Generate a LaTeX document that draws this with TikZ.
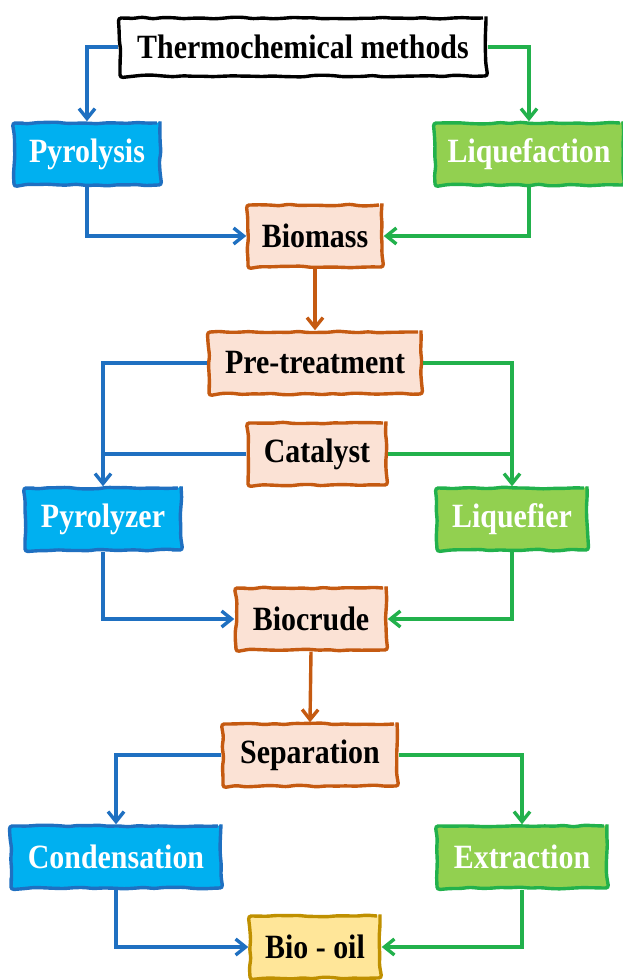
\documentclass[tikz,border=0pt]{standalone}
\usepackage{fontspec}
\setmainfont{Liberation Serif}
\newfontfamily\boxfont{Liberation Serif}[FakeStretch=0.88]
\usepackage{tikz}
\usetikzlibrary{%
  calc,
  positioning,
  arrows.meta,
  decorations.pathmorphing,
}

\definecolor{pyroFill}{HTML}{00B0F0}
\definecolor{pyroLine}{HTML}{1F70C1}
\definecolor{liqFill}{HTML}{92D050}
\definecolor{liqLine}{HTML}{22B14C}
\definecolor{stepFill}{HTML}{FBE2D5}
\definecolor{stepLine}{HTML}{C55A11}
\definecolor{oilFill}{HTML}{FFE699}
\definecolor{oilLine}{HTML}{BF9000}

\tikzset{
  sketchbox/.style = {
    rectangle, line width = 1.7pt,
    minimum height = 31pt, inner sep = 2pt,
    rounded corners = 1.5pt,
    decoration = {random steps, segment length = 5pt, amplitude = 0.45pt},
    decorate,
    font = \boxfont\fontsize{17}{20}\selectfont\bfseries,
  },
  headbox/.style  = {sketchbox, draw = black, fill = white},
  pyrobox/.style  = {sketchbox, draw = pyroLine, fill = pyroFill, text = white},
  liqbox/.style   = {sketchbox, draw = liqLine, fill = liqFill, text = white},
  stagebox/.style = {sketchbox, draw = stepLine, fill = stepFill},
  oilbox/.style   = {sketchbox, draw = oilLine, fill = oilFill},
  flow/.style     = {line width = 1.7pt, -{Straight Barb[length=5pt, width=8pt]}},
  pyroflow/.style = {flow, draw = pyroLine},
  liqflow/.style  = {flow, draw = liqLine},
  stageflow/.style = {flow, draw = stepLine},
}

\begin{document}
\begin{tikzpicture}[x = 0.5pt, y = -0.5pt]
        \pgfmathsetseed{7}
        \useasboundingbox (0,0) rectangle (622,980);

        % top level
        \node[headbox, minimum width = 183pt, minimum height = 29pt]
          (thermo) at (303,47) {Thermochemical methods};
        \node[pyrobox, minimum width = 73pt] (pyrolysis) at (87,154) {Pyrolysis};
        \node[liqbox, minimum width = 94pt] (liquefaction) at (529,154) {Liquefaction};
        \node[stagebox, minimum width = 67pt] (biomass) at (315,236) {Biomass};

        % processing
        \node[stagebox, minimum width = 106pt] (pretreat) at (315,363) {Pre-treatment};
        \node[stagebox, minimum width = 69pt] (catalyst) at (317,454) {Catalyst};
        \node[pyrobox, minimum width = 78pt] (pyrolyzer) at (103,519) {Pyrolyzer};
        \node[liqbox, minimum width = 75pt] (liquefier) at (512,519) {Liquefier};
        \node[stagebox, minimum width = 75pt] (biocrude) at (311,619) {Biocrude};

        % products
        \node[stagebox, minimum width = 87pt] (separation) at (310,755) {Separation};
        \node[pyrobox, minimum width = 105pt] (condensation) at (116,857) {Condensation};
        \node[liqbox, minimum width = 85pt] (extraction) at (522,857) {Extraction};
        \node[oilbox, minimum width = 65pt] (biooil) at (315,947) {Bio - oil};

        \draw[pyroflow] (thermo.west) -| (pyrolysis.north);
        \draw[liqflow] (thermo.east) -| (liquefaction.north);
        \draw[pyroflow] (pyrolysis.south) |- (biomass.west);
        \draw[liqflow] (liquefaction.south) |- (biomass.east);
        \draw[stageflow] (biomass.south) -- (pretreat.north);

        \draw[pyroflow] (pretreat.west) -| (pyrolyzer.north);
        \draw[line width = 1.7pt, pyroLine] (catalyst.west) -- (catalyst.west -| pyrolyzer.north);
        \draw[liqflow] (pretreat.east) -| (liquefier.north);
        \draw[line width = 1.7pt, liqLine] (catalyst.east) -- (catalyst.east -| liquefier.north);
        \draw[pyroflow] (pyrolyzer.south) |- (biocrude.west);
        \draw[liqflow] (liquefier.south) |- (biocrude.east);
        \draw[stageflow] (biocrude.south) -- (separation.north);

        \draw[pyroflow] (separation.west) -| (condensation.north);
        \draw[liqflow] (separation.east) -| (extraction.north);
        \draw[pyroflow] (condensation.south) |- (biooil.west);
        \draw[liqflow] (extraction.south) |- (biooil.east);
      \end{tikzpicture}
\end{document}
